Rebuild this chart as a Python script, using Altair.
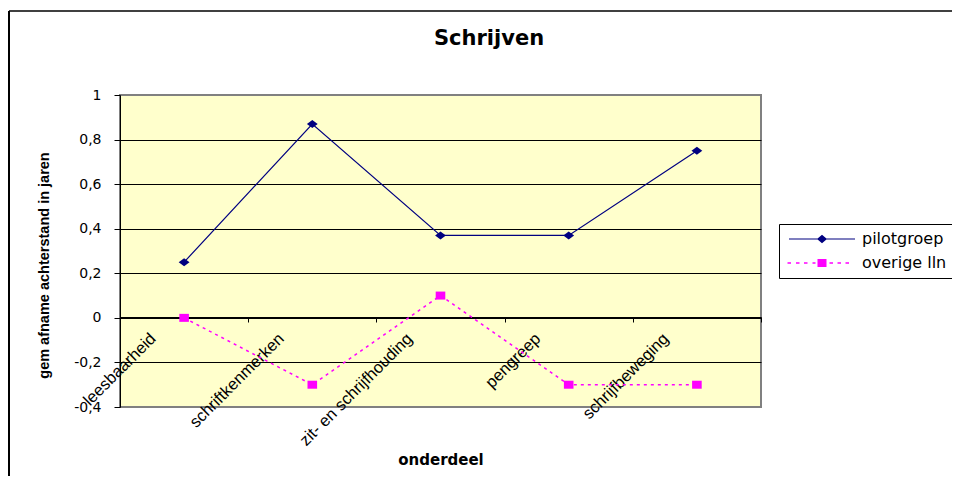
import altair as alt
import pandas as pd

categories = ["leesbaarheid", "schriftkenmerken", "zit- en schrijfhouding", "pengreep", "schrijfbeweging"]
pilotgroep = [0.25, 0.87, 0.37, 0.37, 0.75]
overige_lln = [0.0, -0.3, 0.1, -0.3, -0.3]
series_names = ["pilotgroep", "overige lln"]
y_ticks = [-0.4, -0.2, 0, 0.2, 0.4, 0.6, 0.8, 1]
chart_title = "Schrijven"

rows = []
for c, v in zip(categories, pilotgroep):
    rows.append({"onderdeel": c, "waarde": v, "reeks": series_names[0]})
for c, v in zip(categories, overige_lln):
    rows.append({"onderdeel": c, "waarde": v, "reeks": series_names[1]})
df = pd.DataFrame(rows)

NAVY = "#000080"
MAGENTA = "#FF00FF"

# legend symbols: line + marker (unit = 5px)
pilot_sym = "M-6.6,-0.11H6.6V0.11H-6.6Z M-1,0L0,-0.85L1,0L0,0.85Z"
dash_parts = [(-6.9, -6.2), (-5.2, -4.5), (-3.6, -2.9), (-1.9, -1.3), (1.5, 2.2), (3.1, 3.8), (4.7, 5.4)]
over_sym = " ".join(f"M{a},-0.17H{b}V0.17H{a}Z" for a, b in dash_parts) + " M-0.9,-0.8H0.9V0.8H-0.9Z"

x_enc = alt.X(
    "onderdeel:N",
    sort=categories,
    scale=alt.Scale(type="band", domain=categories, paddingInner=0, paddingOuter=0),
    axis=alt.Axis(
        title="onderdeel",
        titleFont="DejaVu Sans", titleFontSize=15, titleFontWeight="bold", titleColor="black",
        titleY=142, titleBaseline="middle",
        labelAngle=-45, labelAlign="right", labelBaseline="top",
        labelOffset=-37, labelPadding=8, labelOverlap=False,
        labelFont="Liberation Sans", labelFontSize=16.5, labelColor="black",
        tickBand="extent", tickSize=5, tickColor="black",
        domainColor="black", offset=-90, grid=False,
    ),
)
y_enc = alt.Y(
    "waarde:Q",
    scale=alt.Scale(domain=[-0.4, 1], nice=False),
    axis=alt.Axis(
        values=y_ticks,
        labelExpr="replace(toString(datum.value), '.', ',')",
        title="gem afname achterstand in jaren",
        titleFont="Liberation Sans", titleFontSize=14.5, titleFontWeight="bold", titleColor="black",
        titleX=-76, titleY=170, titleAlign="center", titleBaseline="middle",
        labelFont="DejaVu Sans", labelFontSize=14, labelColor="black", labelPadding=13,
        tickSize=6, tickColor="black", domainColor="black",
        gridColor="black",
        gridOpacity={"condition": {"test": "datum.value >= 1 || datum.value <= -0.4", "value": 0}, "value": 1},
    ),
)

base = alt.Chart(df).encode(x=x_enc, y=y_enc)

line_pilot = base.transform_filter(alt.datum.reeks == series_names[0]).mark_line(color=NAVY, strokeWidth=1.2)
line_over = base.transform_filter(alt.datum.reeks == series_names[1]).mark_line(
    color=MAGENTA, strokeWidth=1.5, strokeDash=[3, 4]
)
pts_pilot = base.transform_filter(alt.datum.reeks == series_names[0]).mark_point(
    shape="M-1.35,0L0,-1L1.35,0L0,1Z", size=64, filled=True, color=NAVY, opacity=1
)
pts_over = base.transform_filter(alt.datum.reeks == series_names[1]).mark_point(
    shape="M-1.2,-1H1.2V1H-1.2Z", size=64, filled=True, color=MAGENTA, opacity=1
)
legend_carrier = base.mark_point(filled=True, size=0, strokeWidth=0, opacity=1).encode(
    color=alt.Color(
        "reeks:N",
        scale=alt.Scale(domain=series_names, range=[NAVY, MAGENTA]),
        legend=alt.Legend(
            orient="none", legendX=659, legendY=129, title=None,
            strokeColor="black", fillColor="white", padding=7,
            symbolSize=100, symbolOffset=28, symbolStrokeWidth=0, symbolOpacity=1,
            labelOffset=32, labelFont="DejaVu Sans", labelFontSize=16, labelColor="black",
            rowPadding=8, labelLimit=300,
        ),
    ),
    shape=alt.Shape("reeks:N", scale=alt.Scale(domain=series_names, range=[pilot_sym, over_sym])),
)

one = pd.DataFrame({"k": [0]})
border_left = alt.Chart(one).mark_rule(color="black", strokeWidth=2).encode(
    x=alt.value(-111), y=alt.value(-84), y2=alt.value(420)
)
border_top = alt.Chart(one).mark_rule(color="black", strokeWidth=1.5).encode(
    x=alt.value(-111), x2=alt.value(900), y=alt.value(-84)
)
title_text = alt.Chart(one).mark_text(
    text=chart_title, font="DejaVu Sans", fontSize=21, fontWeight="bold", color="black",
    align="center", baseline="alphabetic",
).encode(x=alt.value(369), y=alt.value(-49.7))

chart = alt.layer(
    line_pilot, line_over, pts_pilot, pts_over, legend_carrier, border_left, border_top, title_text
).properties(
    width=641, height=312,
    padding={"left": 112, "top": 87, "right": 191, "bottom": 69},
    autosize=alt.AutoSizeParams(type="none"),
).configure_view(fill="#FFFFCC", stroke="#808080", strokeWidth=2)

chart.save("out.html", embed_options={"renderer": "svg", "actions": False})
